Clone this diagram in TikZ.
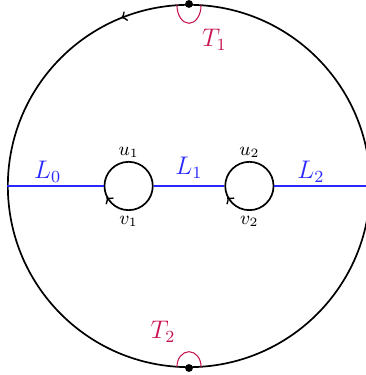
\documentclass[tikz,border=0pt]{standalone}
\usepackage{amsmath}
\usetikzlibrary{decorations.markings}
\definecolor{cutcolor}{RGB}{40, 40, 255}
\definecolor{loopcolor}{RGB}{200, 20, 85}
\tikzset{
boundary/.style={
  draw,
  circle,
  thick,
  inner sep=0pt
},
cutline/.style={
  draw=cutcolor,
  line width=0.5pt
},
cutlabel/.style={
  text=cutcolor,
  font=\large
},
looplabel/.style={
  text=loopcolor,
  font=\large
},
endlabel/.style={
  font=\small
},
pointdot/.style={
  circle,
  fill=black,
  inner sep=0pt,
  minimum size=1.3mm
},
smallloop/.style={
  draw=loopcolor,
  line width=0.5pt
}
}

\begin{document}
\begin{tikzpicture}
  \useasboundingbox (-3.13,-3.13) rectangle (2.93,3.08);

  % Outer circle and the two holes
  \node[boundary, minimum size=6cm] (outer) at (0,0) {};
  \node[boundary, minimum size=0.8cm] (hole1) at (-1,0) {};
  \node[boundary, minimum size=0.8cm] (hole2) at (1,0) {};

  % Orientation marks
  \path[postaction={decorate}, decoration={markings,
      mark=at position 0.311 with {\arrow[thick]{>}}}]
    (outer.center) ++(3,0) arc[start angle=0, end angle=360, radius=3];
  \path[postaction={decorate}, decoration={markings,
      mark=at position 0.611 with {\arrow[thick]{<}}}]
    (hole1.center) ++(0.4,0) arc[start angle=0, end angle=360, radius=0.4];
  \path[postaction={decorate}, decoration={markings,
      mark=at position 0.611 with {\arrow[thick]{<}}}]
    (hole2.center) ++(0.4,0) arc[start angle=0, end angle=360, radius=0.4];

  % Cuts
  \draw[cutline] (outer.west) -- (hole1.west);
  \draw[cutline] (hole1.east) -- (hole2.west);
  \draw[cutline] (hole2.east) -- (outer.east);
  \node[cutlabel] (l0) at (-2.34,0.24) {$L_0$};
  \node[cutlabel] (l1) at (0,0.30) {$L_1$};
  \node[cutlabel] (l2) at (2.02,0.24) {$L_2$};

  % End points of the cuts
  \node[endlabel] (u1) at (-1,0.56) {$u_1$};
  \node[endlabel] (v1) at (-1,-0.58) {$v_1$};
  \node[endlabel] (u2) at (1,0.56) {$u_2$};
  \node[endlabel] (v2) at (1,-0.58) {$v_2$};

  % Small loops round the two points
  \draw[smallloop] (outer.north) ++(-0.2,-0.02)
    arc[start angle=180, end angle=360, x radius=0.2, y radius=0.3];
  \draw[smallloop] (outer.south) ++(-0.2,0.02)
    arc[start angle=180, end angle=0, x radius=0.2, y radius=0.25];
  \node[pointdot] (p1) at (outer.north) {};
  \node[pointdot] (p2) at (outer.south) {};
  \node[looplabel] (t1) at (0.42,2.42) {$T_1$};
  \node[looplabel] (t2) at (-0.43,-2.42) {$T_2$};
\end{tikzpicture}
\end{document}
